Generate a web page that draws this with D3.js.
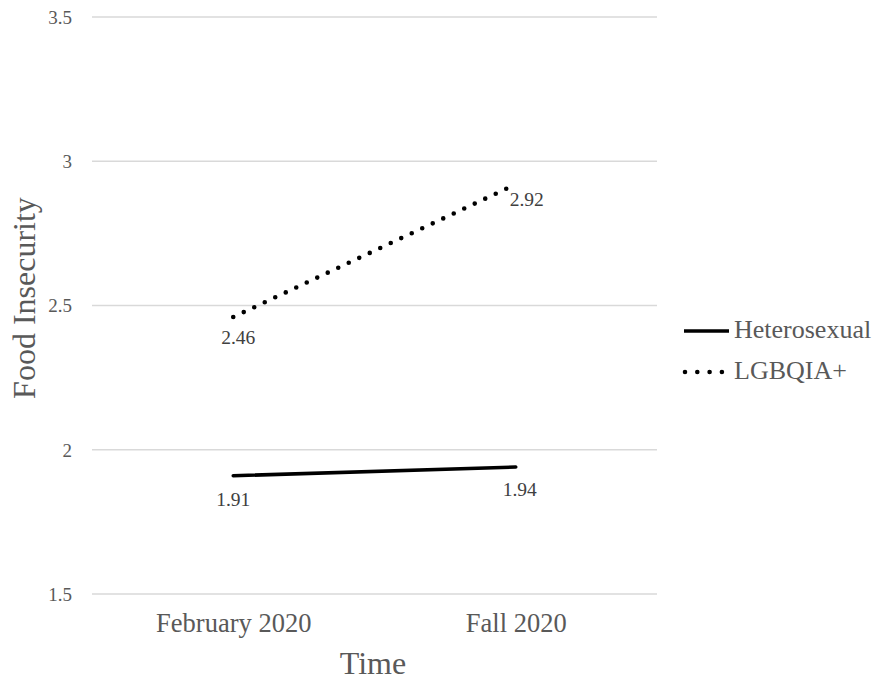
<!DOCTYPE html>
<html>
<head>
<meta charset="utf-8">
<script src="https://cdn.jsdelivr.net/npm/d3@7"></script>
<style>
  html, body { margin: 0; padding: 0; background: #ffffff; }
  svg { display: block; }
</style>
</head>
<body>
<svg id="chart" width="879" height="681"></svg>
<script>
const categories = ["February 2020", "Fall 2020"];
const seriesNames = ["Heterosexual", "LGBQIA+"];
const heterosexual = [1.91, 1.94];
const lgbqia = [2.46, 2.92];
const yTicks = [1.5, 2, 2.5, 3, 3.5];
const yTitle = "Food Insecurity";
const xTitle = "Time";

const svg = d3.select("#chart");
const serif = "'Liberation Serif', 'Times New Roman', serif";
const plot = { left: 92, right: 657, top: 17, bottom: 594 };

const x = d3.scalePoint().domain(categories).range([plot.left, plot.right]).padding(0.5);
const y = d3.scaleLinear().domain([1.5, 3.5]).range([plot.bottom, plot.top]);

// gridlines
svg.append("g").selectAll("line").data(yTicks).join("line")
  .attr("x1", plot.left).attr("x2", plot.right)
  .attr("y1", d => y(d)).attr("y2", d => y(d))
  .attr("stroke", "#d9d9d9").attr("stroke-width", 1.3);

// y axis tick labels
const yAxis = d3.axisLeft(y).tickValues(yTicks).tickSize(0).tickPadding(0)
  .tickFormat(d3.format("~g"));
const gy = svg.append("g").attr("transform", "translate(72,0)").call(yAxis);
gy.attr("font-family", serif);
gy.select(".domain").remove();
gy.selectAll("text").attr("font-family", serif).attr("font-size", 19)
  .attr("fill", "#595959").attr("dy", "0.34em").attr("x", 0);

// x axis labels
const xAxis = d3.axisBottom(x).tickSize(0).tickPadding(0);
const gx = svg.append("g").attr("transform", "translate(0,632)").call(xAxis);
gx.attr("font-family", serif);
gx.select(".domain").remove();
gx.selectAll("text").attr("font-family", serif).attr("font-size", 26.5)
  .attr("fill", "#595959").attr("dy", 0).attr("y", 0);

// axis titles
svg.append("text").attr("x", 373).attr("y", 674).attr("text-anchor", "middle")
  .attr("font-family", serif).attr("font-size", 32).attr("fill", "#595959").text(xTitle);
svg.append("text").attr("transform", "translate(35,298) rotate(-90)").attr("text-anchor", "middle")
  .attr("font-family", serif).attr("font-size", 32).attr("fill", "#595959").text(yTitle);

const line = d3.line().x((d, i) => x(categories[i])).y(d => y(d));

// heterosexual solid
svg.append("path").datum(heterosexual).attr("d", line)
  .attr("fill", "none").attr("stroke", "#000").attr("stroke-width", 3.6)
  .attr("stroke-linecap", "round");

// LGBQIA+ dotted
svg.append("path").datum(lgbqia).attr("d", line)
  .attr("fill", "none").attr("stroke", "#000").attr("stroke-width", 4.6)
  .attr("stroke-linecap", "round").attr("stroke-dasharray", "0 11.6");

// data labels
const labelOffsets = [
  [[0, 30], [4, 29]],
  [[5, 26.5], [11, 22]]
];
[heterosexual, lgbqia].forEach((vals, s) => {
  vals.forEach((v, i) => {
    svg.append("text")
      .attr("x", x(categories[i]) + labelOffsets[s][i][0])
      .attr("y", y(v) + labelOffsets[s][i][1])
      .attr("text-anchor", "middle")
      .attr("font-family", serif).attr("font-size", 19.5).attr("fill", "#404040")
      .text(d3.format(".2f")(v));
  });
});

// legend
const legendY = [331, 372];
seriesNames.forEach((name, i) => {
  const g = svg.append("g");
  if (i === 0) {
    g.append("line").attr("x1", 684).attr("x2", 729).attr("y1", legendY[i]).attr("y2", legendY[i])
      .attr("stroke", "#000").attr("stroke-width", 3.6);
  } else {
    g.append("line").attr("x1", 685).attr("x2", 722).attr("y1", legendY[i]).attr("y2", legendY[i])
      .attr("stroke", "#000").attr("stroke-width", 4.6).attr("stroke-linecap", "round")
      .attr("stroke-dasharray", "0 12.3");
  }
  g.append("text").attr("x", 734).attr("y", legendY[i] + 7)
    .attr("font-family", serif).attr("font-size", 26).attr("fill", "#595959").text(name);
});
</script>
</body>
</html>
